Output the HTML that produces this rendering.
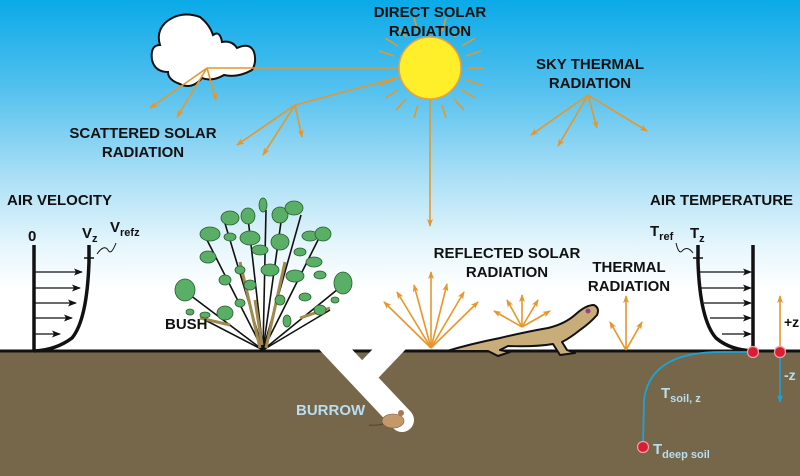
<!DOCTYPE html>
<html><head><meta charset="utf-8"><style>
html,body{margin:0;padding:0;width:800px;height:476px;overflow:hidden;background:#fff}
svg{display:block}
text{font-family:"Liberation Sans",Arial,sans-serif;font-weight:bold}
</style></head><body>
<svg width="800" height="476" viewBox="0 0 800 476" xmlns="http://www.w3.org/2000/svg">
<defs>
<linearGradient id="sky" x1="0" y1="0" x2="0" y2="1">
<stop offset="0" stop-color="#0aaae8"/>
<stop offset="0.3" stop-color="#52c0ee"/>
<stop offset="0.6" stop-color="#a8def6"/>
<stop offset="0.85" stop-color="#e6f6fc"/>
<stop offset="1" stop-color="#ffffff"/>
</linearGradient>
<clipPath id="below"><rect x="0" y="349" width="800" height="130"/></clipPath>
<marker id="oa" markerWidth="8" markerHeight="8" refX="7" refY="4" orient="auto" markerUnits="userSpaceOnUse"><path d="M0,1 L8,4 L0,7 L2,4 z" fill="#e8962a"/></marker>
<marker id="ka" markerWidth="9" markerHeight="8" refX="8" refY="4" orient="auto" markerUnits="userSpaceOnUse"><path d="M0,0.5 L9,4 L0,7.5 L2,4 z" fill="#111"/></marker>
<marker id="ba" markerWidth="8" markerHeight="8" refX="7" refY="4" orient="auto" markerUnits="userSpaceOnUse"><path d="M0,1 L8,4 L0,7 L2,4 z" fill="#1ba3dc"/></marker>
</defs>
<rect x="0" y="0" width="800" height="290" fill="url(#sky)"/>
<rect x="0" y="350" width="800" height="126" fill="#76664a"/>
<line x1="0" y1="351" x2="800" y2="351" stroke="#111" stroke-width="3"/>

<!-- burrow -->
<g clip-path="url(#below)" stroke="#fff" fill="none">
<line x1="322" y1="335" x2="402" y2="420" stroke-width="24" stroke-linecap="round"/>
<line x1="398" y1="340" x2="355" y2="385" stroke-width="24"/>
</g>
<!-- mouse -->
<ellipse cx="393" cy="421" rx="11" ry="7" fill="#c4996a" stroke="#7a5a3a" stroke-width="0.6"/>
<circle cx="401" cy="413" r="3" fill="#a47a52"/>
<path d="M383,424 Q376,426 369,425" stroke="#5a4a34" stroke-width="1.2" fill="none"/>

<!-- cloud -->
<path d="M165,23 Q180,10 200,17 Q210,25 213,35 Q220,30 222,42 Q232,40 237,48 Q250,42 254,52 Q257,62 252,70 Q238,78 224,75 Q212,82 202,78 Q192,90 180,84 Q168,80 168,72 Q155,72 152,60 Q150,45 160,45 Q156,32 165,23 Z" fill="#fff" stroke="#111" stroke-width="2"/>

<!-- sun rays -->
<g stroke="#e8962a" stroke-width="1.6">
<line x1="468" y1="68" x2="484" y2="68"/><line x1="466" y1="56" x2="481" y2="51"/><line x1="466" y1="80" x2="481" y2="85"/>
<line x1="462" y1="46" x2="475" y2="38"/><line x1="462" y1="90" x2="475" y2="98"/>
<line x1="454" y1="37" x2="464" y2="26"/><line x1="454" y1="99" x2="464" y2="110"/>
<line x1="442" y1="31" x2="446" y2="18"/><line x1="442" y1="105" x2="446" y2="118"/>
<line x1="418" y1="31" x2="414" y2="18"/><line x1="418" y1="105" x2="414" y2="118"/>
<line x1="406" y1="37" x2="396" y2="26"/><line x1="406" y1="99" x2="396" y2="110"/>
<line x1="398" y1="46" x2="385" y2="38"/><line x1="398" y1="90" x2="385" y2="98"/>
<line x1="394" y1="56" x2="379" y2="51"/><line x1="394" y1="80" x2="379" y2="85"/>
</g>
<circle cx="430" cy="68" r="31" fill="#ffee2a" stroke="#e8a040" stroke-width="1.5"/>

<!-- orange radiation lines -->
<g stroke="#e8962a" stroke-width="1.6" fill="none">
<line x1="207" y1="68" x2="399" y2="68"/>
<line x1="207" y1="68" x2="150" y2="108" marker-end="url(#oa)"/>
<line x1="207" y1="68" x2="177" y2="117" marker-end="url(#oa)"/>
<line x1="207" y1="68" x2="216" y2="100" marker-end="url(#oa)"/>
<line x1="400" y1="77" x2="295" y2="105"/>
<line x1="295" y1="105" x2="237" y2="145" marker-end="url(#oa)"/>
<line x1="295" y1="105" x2="263" y2="155" marker-end="url(#oa)"/>
<line x1="295" y1="105" x2="302" y2="137" marker-end="url(#oa)"/>
<line x1="430" y1="100" x2="430" y2="226" marker-end="url(#oa)"/>
<line x1="588" y1="95" x2="531" y2="135" marker-end="url(#oa)"/>
<line x1="588" y1="95" x2="558" y2="146" marker-end="url(#oa)"/>
<line x1="588" y1="95" x2="597" y2="128" marker-end="url(#oa)"/>
<line x1="588" y1="95" x2="647" y2="131" marker-end="url(#oa)"/>
<line x1="431" y1="348" x2="384" y2="302" marker-end="url(#oa)"/>
<line x1="431" y1="348" x2="397" y2="292" marker-end="url(#oa)"/>
<line x1="431" y1="348" x2="414" y2="285" marker-end="url(#oa)"/>
<line x1="431" y1="348" x2="431" y2="272" marker-end="url(#oa)"/>
<line x1="431" y1="348" x2="447" y2="284" marker-end="url(#oa)"/>
<line x1="431" y1="348" x2="464" y2="292" marker-end="url(#oa)"/>
<line x1="431" y1="348" x2="478" y2="302" marker-end="url(#oa)"/>
<line x1="522" y1="327" x2="494" y2="311" marker-end="url(#oa)"/>
<line x1="522" y1="327" x2="507" y2="300" marker-end="url(#oa)"/>
<line x1="522" y1="327" x2="522" y2="295" marker-end="url(#oa)"/>
<line x1="522" y1="327" x2="538" y2="300" marker-end="url(#oa)"/>
<line x1="522" y1="327" x2="550" y2="311" marker-end="url(#oa)"/>
<line x1="626" y1="350" x2="610" y2="322" marker-end="url(#oa)"/>
<line x1="626" y1="350" x2="626" y2="296" marker-end="url(#oa)"/>
<line x1="626" y1="350" x2="642" y2="322" marker-end="url(#oa)"/>
<line x1="780" y1="350" x2="780" y2="296" marker-end="url(#oa)"/>
</g>

<!-- lizard -->
<path d="M447,351 Q470,344 500,338 Q525,332 548,328 Q565,324 576,314 Q586,305 594,305 Q600,308 597,315 Q590,323 580,330 Q570,338 562,342 L567,350 L575,353 L560,355 L553,344 Q535,347 508,346 L500,350 L510,352 L498,356 L488,351 Q470,351 447,351 Z" fill="#c8ad7a" stroke="#111" stroke-width="2" stroke-linejoin="round"/>
<circle cx="588" cy="311" r="2.5" fill="#a0407a"/>

<!-- bush -->
<g stroke="#111" stroke-width="1.6" fill="none">
<path d="M263,350 L190,295"/><path d="M263,350 L206,238"/><path d="M263,350 L224,220"/>
<path d="M263,350 L248,218"/><path d="M263,350 L266,210"/><path d="M263,350 L281,222"/>
<path d="M263,350 L301,215"/><path d="M263,350 L318,240"/><path d="M263,350 L343,285"/>
<path d="M263,350 L205,320"/><path d="M263,350 L330,310"/>
</g>
<g stroke="#a08a50" stroke-width="3" fill="none">
<path d="M260,348 L240,262"/><path d="M266,348 L285,262"/><path d="M262,345 L255,300"/>
<path d="M200,318 L230,325"/><path d="M300,318 L330,308"/>
</g>
<g fill="#5aaf66" stroke="#2b5a30" stroke-width="0.8">
<ellipse cx="185" cy="290" rx="10" ry="11"/><ellipse cx="205" cy="315" rx="5" ry="3"/>
<ellipse cx="225" cy="313" rx="8" ry="7"/><ellipse cx="210" cy="234" rx="10" ry="7"/>
<ellipse cx="208" cy="257" rx="8" ry="6"/><ellipse cx="230" cy="218" rx="9" ry="7"/>
<ellipse cx="248" cy="216" rx="7" ry="8"/><ellipse cx="263" cy="205" rx="4" ry="7"/>
<ellipse cx="280" cy="215" rx="8" ry="8"/><ellipse cx="294" cy="208" rx="9" ry="7"/>
<ellipse cx="230" cy="237" rx="6" ry="4"/><ellipse cx="250" cy="238" rx="10" ry="7"/>
<ellipse cx="280" cy="242" rx="9" ry="8"/><ellipse cx="260" cy="250" rx="8" ry="5"/>
<ellipse cx="310" cy="236" rx="8" ry="5"/><ellipse cx="323" cy="234" rx="8" ry="7"/>
<ellipse cx="300" cy="252" rx="6" ry="4"/><ellipse cx="240" cy="270" rx="5" ry="4"/>
<ellipse cx="270" cy="270" rx="9" ry="6"/><ellipse cx="295" cy="276" rx="9" ry="6"/>
<ellipse cx="314" cy="262" rx="8" ry="5"/><ellipse cx="320" cy="275" rx="6" ry="4"/>
<ellipse cx="225" cy="280" rx="6" ry="5"/><ellipse cx="250" cy="285" rx="6" ry="5"/>
<ellipse cx="305" cy="297" rx="6" ry="4"/><ellipse cx="343" cy="283" rx="9" ry="11"/>
<ellipse cx="320" cy="310" rx="6" ry="5"/><ellipse cx="280" cy="300" rx="5" ry="5"/>
<ellipse cx="240" cy="303" rx="5" ry="4"/><ellipse cx="335" cy="300" rx="4" ry="3"/>
<ellipse cx="190" cy="312" rx="4" ry="3"/><ellipse cx="287" cy="321" rx="4" ry="6"/>
</g>

<!-- air velocity profile -->
<line x1="34" y1="245" x2="34" y2="351" stroke="#111" stroke-width="3.5"/>
<path d="M89,245 L89,262 Q87,320 72,338 Q56,350 34,351" stroke="#111" stroke-width="3.5" fill="none"/>
<line x1="84" y1="258" x2="94" y2="258" stroke="#111" stroke-width="1.5"/>
<path d="M97,254 Q104,244 108,250 Q111,256 116,243" stroke="#111" stroke-width="1" fill="none"/>
<g stroke="#111" stroke-width="1.3">
<line x1="35" y1="272" x2="82" y2="272" marker-end="url(#ka)"/>
<line x1="35" y1="288" x2="80" y2="288" marker-end="url(#ka)"/>
<line x1="35" y1="303" x2="76" y2="303" marker-end="url(#ka)"/>
<line x1="35" y1="318" x2="72" y2="318" marker-end="url(#ka)"/>
<line x1="35" y1="334" x2="60" y2="334" marker-end="url(#ka)"/>
</g>

<!-- air temperature profile -->
<line x1="753" y1="245" x2="753" y2="351" stroke="#111" stroke-width="3.5"/>
<path d="M698,245 L698,262 Q700,320 716,338 Q730,350 753,351" stroke="#111" stroke-width="3.5" fill="none"/>
<line x1="693" y1="258" x2="703" y2="258" stroke="#111" stroke-width="1.5"/>
<path d="M676,243 Q679,256 683,250 Q688,246 693,253" stroke="#111" stroke-width="1" fill="none"/>
<g stroke="#111" stroke-width="1.3">
<line x1="700" y1="272" x2="751" y2="272" marker-end="url(#ka)"/>
<line x1="701" y1="288" x2="751" y2="288" marker-end="url(#ka)"/>
<line x1="704" y1="303" x2="751" y2="303" marker-end="url(#ka)"/>
<line x1="710" y1="318" x2="751" y2="318" marker-end="url(#ka)"/>
<line x1="722" y1="334" x2="751" y2="334" marker-end="url(#ka)"/>
</g>

<!-- soil temperature -->
<path d="M753,352 L720,352 Q650,352 644,400 L643,446" stroke="#1ba3dc" stroke-width="1.8" fill="none"/>
<line x1="780" y1="352" x2="780" y2="402" stroke="#1ba3dc" stroke-width="1.6" marker-end="url(#ba)"/>
<circle cx="753" cy="352" r="5.5" fill="#d81e30" stroke="#f0a0a8" stroke-width="1.2"/>
<circle cx="780" cy="352" r="5.5" fill="#d81e30" stroke="#f0a0a8" stroke-width="1.2"/>
<circle cx="643" cy="447" r="5.5" fill="#d81e30" stroke="#f0a0a8" stroke-width="1.2"/>

<!-- labels -->
<g fill="#111" font-size="15" text-anchor="middle">
<text x="430" y="17">DIRECT SOLAR</text><text x="430" y="36">RADIATION</text>
<text x="590" y="69">SKY THERMAL</text><text x="590" y="88">RADIATION</text>
<text x="143" y="138">SCATTERED SOLAR</text><text x="143" y="157">RADIATION</text>
<text x="507" y="258">REFLECTED SOLAR</text><text x="507" y="277">RADIATION</text>
<text x="629" y="272">THERMAL</text><text x="629" y="291">RADIATION</text>
</g>
<g fill="#111" font-size="15">
<text x="7" y="205">AIR VELOCITY</text>
<text x="650" y="205">AIR TEMPERATURE</text>
<text x="165" y="329">BUSH</text>
<text x="28" y="241">0</text>
<text x="82" y="238" font-size="15">V<tspan font-size="11" dy="4">z</tspan></text>
<text x="110" y="232" font-size="15">V<tspan font-size="11" dy="4">refz</tspan></text>
<text x="650" y="236" font-size="15">T<tspan font-size="11" dy="4">ref</tspan></text>
<text x="690" y="238" font-size="15">T<tspan font-size="11" dy="4">z</tspan></text>
<text x="784" y="327" font-size="14">+z</text>
</g>
<g fill="#b9def0">
<text x="296" y="415" font-size="15">BURROW</text>
<text x="784" y="380" font-size="14">-z</text>
<text x="661" y="398" font-size="15">T<tspan font-size="11" dy="4">soil, z</tspan></text>
<text x="653" y="454" font-size="15">T<tspan font-size="11" dy="4">deep soil</tspan></text>
</g>
</svg>
</body></html>
